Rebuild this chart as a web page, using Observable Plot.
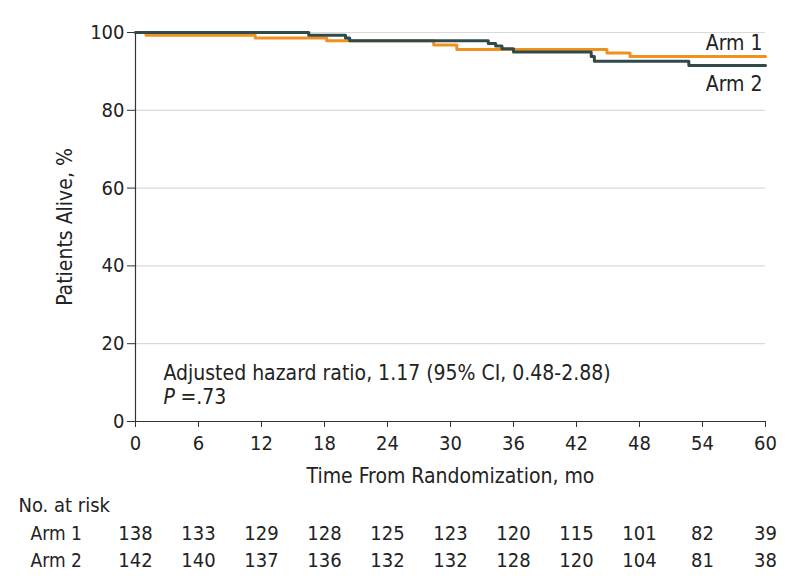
<!DOCTYPE html>
<html>
<head>
<meta charset="utf-8">
<script src="https://cdn.jsdelivr.net/npm/d3@7"></script>
<script src="https://cdn.jsdelivr.net/npm/@observablehq/plot@0.6"></script>
<style>
  html, body { margin: 0; padding: 0; background: #fff; }
  #chart svg { display: block; }
</style>
</head>
<body>
<div id="chart"></div>
<script>
// Kaplan-Meier step data (months, % alive)
const arm1Time = [0, 1.0, 11.4, 18.2, 28.4, 30.6, 44.9, 47.1, 60];
const arm1Surv = [100, 99.3, 98.6, 97.9, 96.8, 95.6, 94.7, 93.8, 93.8];
const arm2Time = [0, 16.5, 20.0, 20.4, 33.6, 34.3, 34.9, 36.0, 43.4, 43.7, 52.7, 60];
const arm2Surv = [100, 99.3, 98.6, 97.9, 97.2, 96.5, 95.8, 95.0, 93.8, 92.6, 91.5, 91.5];

// Risk table
const riskMonths = [0, 6, 12, 18, 24, 30, 36, 42, 48, 54, 60];
const arm1Risk = [138, 133, 129, 128, 125, 123, 120, 115, 101, 82, 39];
const arm2Risk = [142, 140, 137, 136, 132, 132, 128, 120, 104, 81, 38];

const yTicks = [0, 20, 40, 60, 80, 100];
const xTicks = riskMonths;

const arm1 = arm1Time.map((t, i) => ({t, s: arm1Surv[i]}));
const arm2 = arm2Time.map((t, i) => ({t, s: arm2Surv[i]}));

const orange = "#f0901e";
const dark = "#2f4b49";
const ink = "#222";
const font = "'DejaVu Sans Condensed', 'Liberation Sans Narrow', sans-serif";

const chart = Plot.plot({
  width: 794,
  height: 588,
  marginLeft: 135,
  marginRight: 29,
  marginTop: 32,
  marginBottom: 167,
  style: {fontFamily: font, fontSize: "20px", color: ink, background: "#fff"},
  x: {domain: [0, 60], ticks: xTicks},
  y: {domain: [0, 100], ticks: yTicks},
  marks: [
    Plot.gridY(yTicks.filter(d => d > 0), {stroke: "#d9d9d9", strokeOpacity: 1, strokeWidth: 1.2}),
    Plot.axisY({ticks: yTicks, tickSize: 8, tickFormat: () => "", label: null, stroke: "#333"}),
    Plot.axisX({ticks: xTicks, tickSize: 6, tickFormat: () => "", label: null, stroke: "#333"}),
    Plot.ruleX([0], {stroke: "#333", strokeWidth: 1.2}),
    Plot.ruleY([0], {stroke: "#333", strokeWidth: 1.2}),
    // tick labels
    Plot.text(yTicks, {y: d => d, text: d => String(d), frameAnchor: "left", dx: -11, textAnchor: "end", lineAnchor: "middle", fontSize: 20, fill: ink}),
    Plot.text(xTicks, {x: d => d, text: d => String(d), frameAnchor: "bottom", dy: 22, textAnchor: "middle", lineAnchor: "middle", fontSize: 20, fill: ink}),
    Plot.line(arm1, {x: "t", y: "s", curve: "step-after", stroke: orange, strokeWidth: 3}),
    Plot.line(arm2, {x: "t", y: "s", curve: "step-after", stroke: dark, strokeWidth: 3}),
    // series labels
    Plot.text(["Arm 1"], {frameAnchor: "top-right", dx: -3, dy: 11, textAnchor: "end", lineAnchor: "middle", fontSize: 21, fill: ink}),
    Plot.text(["Arm 2"], {frameAnchor: "top-right", dx: -3, dy: 52, textAnchor: "end", lineAnchor: "middle", fontSize: 21, fill: ink}),
    // annotation
    Plot.text(["Adjusted hazard ratio, 1.17 (95% CI, 0.48-2.88)"], {frameAnchor: "bottom-left", dx: 28, dy: -48, textAnchor: "start", lineAnchor: "middle", fontSize: 21, fill: ink}),
    Plot.text(["P"], {frameAnchor: "bottom-left", dx: 28, dy: -24, textAnchor: "start", lineAnchor: "middle", fontSize: 21, fontStyle: "italic", fill: ink}),
    Plot.text(["=.73"], {frameAnchor: "bottom-left", dx: 45, dy: -24, textAnchor: "start", lineAnchor: "middle", fontSize: 21, fill: ink}),
    // axis titles
    Plot.text(["Patients Alive, %"], {frameAnchor: "left", dx: -70, rotate: -90, textAnchor: "middle", lineAnchor: "middle", fontSize: 21, fill: ink}),
    Plot.text(["Time From Randomization, mo"], {frameAnchor: "bottom", dy: 55, textAnchor: "middle", lineAnchor: "middle", fontSize: 21, fill: ink}),
    // risk table
    Plot.text(["No. at risk"], {frameAnchor: "bottom-left", dx: -117, dy: 84, textAnchor: "start", lineAnchor: "middle", fontSize: 20, fill: ink}),
    Plot.text(["Arm 1"], {frameAnchor: "bottom-left", dx: -105, dy: 112, textAnchor: "start", lineAnchor: "middle", fontSize: 19, fill: ink}),
    Plot.text(["Arm 2"], {frameAnchor: "bottom-left", dx: -105, dy: 139, textAnchor: "start", lineAnchor: "middle", fontSize: 19, fill: ink}),
    Plot.text(riskMonths, {x: d => d, text: (d, i) => String(arm1Risk[i]), frameAnchor: "bottom", dy: 112, lineAnchor: "middle", fontSize: 20, fill: ink}),
    Plot.text(riskMonths, {x: d => d, text: (d, i) => String(arm2Risk[i]), frameAnchor: "bottom", dy: 139, lineAnchor: "middle", fontSize: 20, fill: ink})
  ]
});
document.getElementById("chart").appendChild(chart);
</script>
</body>
</html>
